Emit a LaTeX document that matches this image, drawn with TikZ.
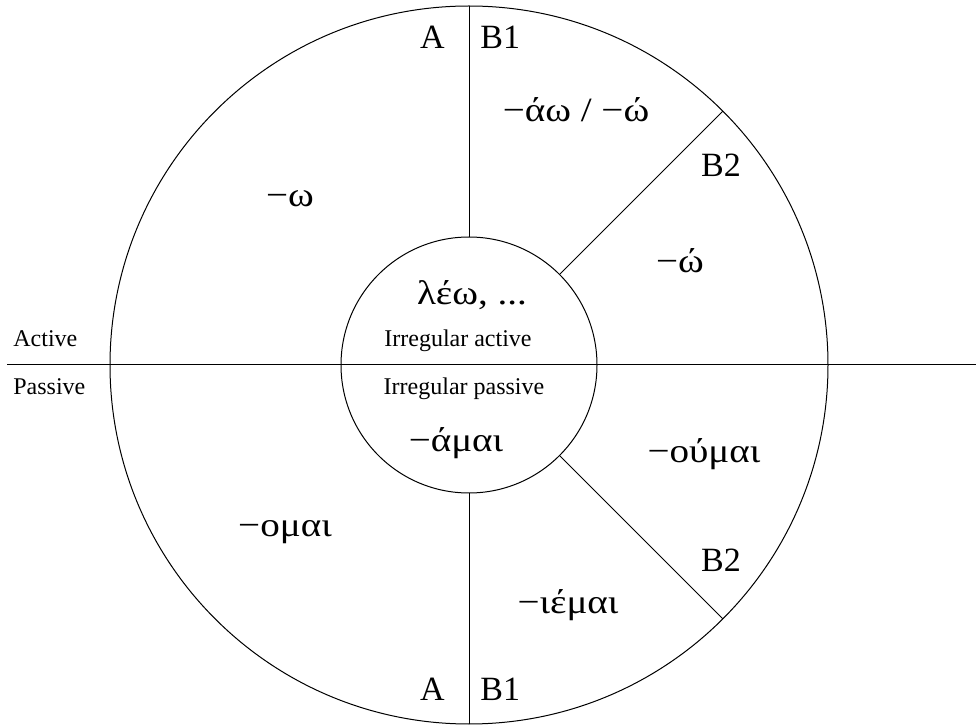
\documentclass[tikz,border=0pt]{standalone}
\usepackage{fontspec}
\setmainfont{Liberation Serif}
\usepackage{tikz}

\newcommand{\grk}[1]{\scalebox{1.15}[1]{#1}}

\begin{document}
\begin{tikzpicture}[x=0.5pt, y=0.5pt,
    big/.style={inner sep=0pt, font=\fontsize{17}{20}\selectfont},
    small/.style={inner sep=0pt, font=\fontsize{12}{14}\selectfont}]
    \useasboundingbox (0,0) rectangle (976,724);

    % Draw circles
    \coordinate (O) at (469,359);
    \draw[line width=0.5pt] (O) circle (359);
    \draw[line width=0.5pt] (O) circle (128);

    % Draw dividing lines
    \coordinate (W) at (7,359);
    \coordinate (E) at (976,359);
    \draw[line width=0.5pt] (W) -- (E);
    \draw[line width=0.5pt] (O) ++(90:128) -- ++(90:231);
    \draw[line width=0.5pt] (O) ++(-90:128) -- ++(-90:231);
    \draw[line width=0.5pt] (O) ++(45:128) -- ++(45:231);
    \draw[line width=0.5pt] (O) ++(-45:128) -- ++(-45:231);

    % Draw sector labels
    \node[big, anchor=base east] (atop) at (445,675) {A};
    \node[big, anchor=base west] (btop) at (480,675) {B1};
    \node[big, anchor=base] (b2top) at (721,547) {B2};
    \node[big, anchor=base east] (abot) at (445,24) {A};
    \node[big, anchor=base west] (bbot) at (480,24) {B1};
    \node[big, anchor=base] (b2bot) at (721,152) {B2};

    % Draw voice labels
    \node[small, anchor=base west] (act) at (13,377) {Active};
    \node[small, anchor=base west] (pas) at (13,329) {Passive};
    \node[small, anchor=base] (iract) at (458,377) {Irregular active};
    \node[small, anchor=base] (irpas) at (464,329) {Irregular passive};

    % Draw endings
    \node[big, anchor=base] (leo) at (472,419) {\grk{λέω, ...}};
    \node[big, anchor=base] (ami) at (456,272) {\grk{−άμαι}};
    \node[big, anchor=base] (omega) at (290,517) {\grk{−ω}};
    \node[big, anchor=base] (ao) at (576,602) {\grk{−άω / −ώ}};
    \node[big, anchor=base] (oo) at (680,451) {\grk{−ώ}};
    \node[big, anchor=base] (oumai) at (704,261) {\grk{−ούμαι}};
    \node[big, anchor=base] (omai) at (285,187) {\grk{−ομαι}};
    \node[big, anchor=base] (iemai) at (568,111) {\grk{−ιέμαι}};
\end{tikzpicture}
\end{document}
